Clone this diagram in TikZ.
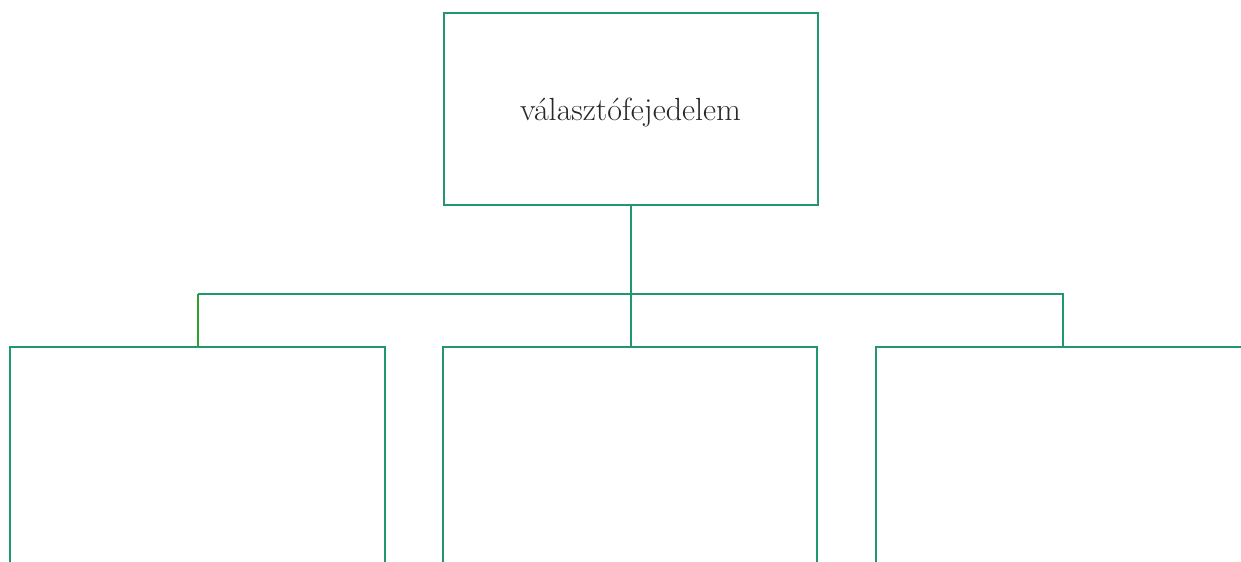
\documentclass[tikz,border=0pt]{standalone}
\usepackage{xcolor}
\usepackage{tikz}
\usetikzlibrary{calc}

\definecolor{boxgreen}{RGB}{34,150,112}
\definecolor{linkgreen}{RGB}{42,162,48}
\definecolor{labelgray}{RGB}{40,40,40}

\tikzset{
  unitbox/.style={draw=boxgreen, line width=0.05cm, inner sep=0pt,
    minimum width=9.35cm, text=labelgray, font=\fontsize{22.8}{26}\selectfont},
}

\begin{document}
\begin{tikzpicture}[line width=0.05cm]
    \useasboundingbox (0,0) rectangle (31.025,-14.025);
    \clip (0,0) rectangle (31.025,-14.025);

    \node[unitbox, minimum height=4.78cm] (T) at (15.7625,-2.725) {};
    \node (Tl) at ($(T.center)+(0,-0.1)$) [text=labelgray, font=\fontsize{22.8}{26}\selectfont] {választófejedelem};
    \node[unitbox, minimum height=12cm] (B1) at (4.9375,-14.6625) {};
    \node[unitbox, minimum height=12cm] (B2) at (15.7375,-14.6625) {};
    \node[unitbox, minimum height=12cm] (B3) at (26.5625,-14.6625) {};
    \coordinate (H) at (0,-7.3375);

    \draw[boxgreen] (T.south) -- (T.south |- B2.north);
    \draw[linkgreen] (B1.north) -- (B1.north |- H);
    \draw[boxgreen] (B1.north |- H) -| (B3.north);
  \end{tikzpicture}
\end{document}
